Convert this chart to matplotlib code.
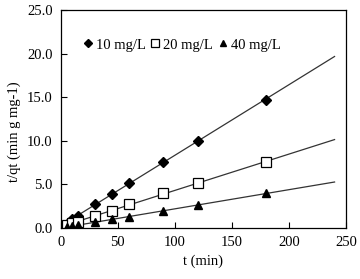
import numpy as np
import matplotlib
matplotlib.use("Agg")
import matplotlib.pyplot as plt

plt.rcParams['font.family'] = ['Liberation Serif', 'DejaVu Serif']

t = [5, 10, 15, 30, 45, 60, 90, 120, 180]
s10 = [0.5, 1.0, 1.4, 2.8, 3.9, 5.2, 7.6, 10.0, 14.7]
s20 = [0.3, 0.6, 0.7, 1.4, 2.0, 2.7, 4.0, 5.1, 7.6]
s40 = [0.1, 0.2, 0.35, 0.7, 1.0, 1.3, 1.9, 2.6, 4.0]
labels = ['10 mg/L', '20 mg/L', '40 mg/L']
x_ticks = [0, 50, 100, 150, 200, 250]
y_ticks = [0.0, 5.0, 10.0, 15.0, 20.0, 25.0]

fig = plt.figure(figsize=(3.6, 2.79), dpi=100)
ax = fig.add_axes([0.169, 0.183, 0.792, 0.781])

tf = np.array([3, 240])
markers = [dict(marker='D', mfc='black', mec='black', ms=5),
           dict(marker='s', mfc='white', mec='black', ms=7, mew=0.9),
           dict(marker='^', mfc='black', mec='black', ms=6)]
for ys, lab, mk in zip([s10, s20, s40], labels, markers):
    k, b = np.polyfit(t, ys, 1)
    ax.plot(tf, k * tf + b, color='#333333', lw=0.9, zorder=1)
    ax.plot(t, ys, ls='none', label=lab, zorder=2, **mk)

ax.set_xlim(0, 250)
ax.set_ylim(0, 25)
ax.set_xticks(x_ticks)
ax.set_yticks(y_ticks)
ax.set_yticklabels([f'{v:.1f}' for v in y_ticks])
ax.tick_params(direction='in', labelsize=10.5, length=4, width=0.8, pad=6)
for sp in ax.spines.values():
    sp.set_linewidth(0.9)
ax.set_xlabel('t (min)', fontsize=10.5, labelpad=4)
ax.set_ylabel('t/qt (min g mg-1)', fontsize=10.5, color='black')
ax.yaxis.set_label_coords(-0.14, 0.44)
ax.legend(loc='upper left', bbox_to_anchor=(0.08, 0.87), ncol=3, frameon=False,
          fontsize=10.5, handlelength=0.6, handletextpad=0.25, columnspacing=0.35,
          markerscale=0.75, borderaxespad=0.0, borderpad=0.0)

fig.savefig('out.png', dpi=100)
